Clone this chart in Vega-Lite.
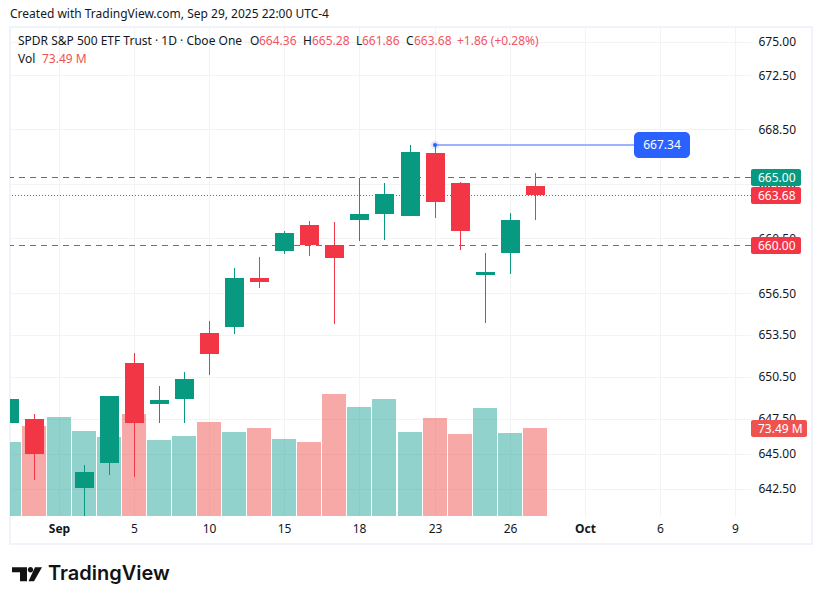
{
  "$schema": "https://vega.github.io/schema/vega-lite/v6.json",
  "description": "SPY daily candles with volume, TradingView snapshot",
  "width": 741,
  "height": 489,
  "autosize": {"type": "none"},
  "padding": {"left": 10, "top": 27, "right": 71, "bottom": 88},
  "background": "#ffffff",
  "datasets": {
    "candles": [
      {"date": "Aug 28", "bar": 0, "open": 647.17, "high": 649.0, "low": 647.0, "close": 648.89, "volume": 61.8, "dir": "up"},
      {"date": "Aug 29", "bar": 1, "open": 647.46, "high": 647.82, "low": 643.12, "close": 644.96, "volume": 75.2, "dir": "down"},
      {"date": "Sep 2", "bar": 2, "open": 637.5, "high": 640.49, "low": 634.92, "close": 640.27, "volume": 82.7, "dir": "up"},
      {"date": "Sep 3", "bar": 3, "open": 642.55, "high": 644.18, "low": 640.3, "close": 643.68, "volume": 71.0, "dir": "up"},
      {"date": "Sep 4", "bar": 4, "open": 644.32, "high": 649.1, "low": 643.47, "close": 649.1, "volume": 66.0, "dir": "up"},
      {"date": "Sep 5", "bar": 5, "open": 651.47, "high": 652.19, "low": 643.33, "close": 647.17, "volume": 85.2, "dir": "down"},
      {"date": "Sep 8", "bar": 6, "open": 648.53, "high": 649.82, "low": 647.17, "close": 648.82, "volume": 63.5, "dir": "up"},
      {"date": "Sep 9", "bar": 7, "open": 648.89, "high": 650.83, "low": 647.17, "close": 650.32, "volume": 66.8, "dir": "up"},
      {"date": "Sep 10", "bar": 8, "open": 653.64, "high": 654.5, "low": 650.61, "close": 652.12, "volume": 78.5, "dir": "down"},
      {"date": "Sep 11", "bar": 9, "open": 654.07, "high": 658.34, "low": 653.56, "close": 657.61, "volume": 70.2, "dir": "up"},
      {"date": "Sep 12", "bar": 10, "open": 657.61, "high": 659.14, "low": 656.89, "close": 657.32, "volume": 73.5, "dir": "down"},
      {"date": "Sep 15", "bar": 11, "open": 659.57, "high": 661.03, "low": 659.36, "close": 660.89, "volume": 64.3, "dir": "up"},
      {"date": "Sep 16", "bar": 12, "open": 661.47, "high": 661.76, "low": 659.21, "close": 660.01, "volume": 61.8, "dir": "down"},
      {"date": "Sep 17", "bar": 13, "open": 660.01, "high": 661.69, "low": 654.28, "close": 659.07, "volume": 101.9, "dir": "down"},
      {"date": "Sep 18", "bar": 14, "open": 661.84, "high": 664.91, "low": 660.31, "close": 662.27, "volume": 91.1, "dir": "up"},
      {"date": "Sep 19", "bar": 15, "open": 662.27, "high": 664.54, "low": 660.38, "close": 663.74, "volume": 97.7, "dir": "up"},
      {"date": "Sep 22", "bar": 16, "open": 662.13, "high": 667.33, "low": 662.13, "close": 666.82, "volume": 70.2, "dir": "up"},
      {"date": "Sep 23", "bar": 17, "open": 666.75, "high": 667.34, "low": 661.98, "close": 663.15, "volume": 81.9, "dir": "down"},
      {"date": "Sep 24", "bar": 18, "open": 664.54, "high": 664.62, "low": 659.65, "close": 661.03, "volume": 68.5, "dir": "down"},
      {"date": "Sep 25", "bar": 19, "open": 657.83, "high": 659.43, "low": 654.36, "close": 658.05, "volume": 90.2, "dir": "up"},
      {"date": "Sep 26", "bar": 20, "open": 659.43, "high": 662.35, "low": 657.9, "close": 661.86, "volume": 69.3, "dir": "up"},
      {"date": "Sep 29", "bar": 21, "open": 664.36, "high": 665.28, "low": 661.86, "close": 663.68, "volume": 73.49, "dir": "down"}
    ],
    "levels": [
      {"price": 665, "label": "665.00", "dir": "up"},
      {"price": 660, "label": "660.00", "dir": "down"}
    ],
    "lastPrice": [{"price": 663.68, "label": "663.68", "dir": "down"}],
    "lastVolume": [{"volume": 73.49, "label": "73.49 M"}],
    "high": [{"bar": 17, "price": 667.34, "label": "667.34"}]
  },
  "layer": [
    {
      "data": {"values": [{"part": "frame"}]},
      "mark": {"type": "rect", "fillOpacity": 0, "stroke": "#f0f3fa", "strokeWidth": 2},
      "encoding": {
        "x": {
          "datum": 0.043,
          "type": "quantitative",
          "scale": {"domain": [0.043, 29.64], "nice": false, "zero": false, "padding": 0, "round": true},
          "axis": {
            "values": [2, 5, 8, 11, 14, 17, 20, 23, 26, 29],
            "labelExpr": "datum.value == 2 ? 'Sep' : datum.value == 5 ? '5' : datum.value == 8 ? '10' : datum.value == 11 ? '15' : datum.value == 14 ? '18' : datum.value == 17 ? '23' : datum.value == 20 ? '26' : datum.value == 23 ? 'Oct' : datum.value == 26 ? '6' : '9'",
            "title": null,
            "grid": true,
            "gridColor": "#f2f3f5",
            "domain": false,
            "ticks": false,
            "labelPadding": 7,
            "labelFontSize": 12,
            "labelColor": "#131722",
            "labelFontWeight": {"condition": {"test": "datum.value == 2 || datum.value == 23", "value": "bold"}, "value": "normal"}
          }
        },
        "x2": {"datum": 32.07},
        "y": {
          "datum": 676.09,
          "type": "quantitative",
          "scale": {"type": "log", "domain": [640.57, 676.09], "nice": false},
          "axis": {
            "orient": "right",
            "values": [642.5, 645, 647.5, 650.5, 653.5, 656.5, 660.5, 664.5, 668.5, 672.5, 675],
            "format": ".2f",
            "title": null,
            "grid": true,
            "gridColor": "#f2f3f5",
            "domain": false,
            "ticks": false,
            "labelPadding": 7,
            "labelFontSize": 12,
            "labelColor": "#131722",
            "labelOverlap": false
          }
        },
        "y2": {"datum": 638.59}
      }
    },
    {
      "data": {"name": "levels"},
      "mark": {"type": "rule", "strokeDash": [6, 5], "strokeWidth": 1, "yOffset": 0.5},
      "encoding": {
        "y": {"field": "price", "type": "quantitative", "scale": {"type": "log", "domain": [640.57, 676.09], "nice": false, "round": true}, "axis": null},
        "color": {"field": "dir", "type": "nominal", "scale": {"domain": ["up", "down"], "range": ["#089981", "#f23645"]}, "legend": null}
      }
    },
    {
      "data": {"name": "lastPrice"},
      "mark": {"type": "rule", "strokeDash": [1, 2], "strokeWidth": 1, "color": "#f23645", "yOffset": 0.5},
      "encoding": {
        "y": {"field": "price", "type": "quantitative", "scale": {"type": "log", "domain": [640.57, 676.09], "nice": false, "round": true}, "axis": null}
      }
    },
    {
      "data": {"name": "candles"},
      "mark": {"type": "bar", "size": 24, "opacity": 0.5, "clip": true},
      "encoding": {
        "x": {"field": "bar", "type": "quantitative", "scale": {"domain": [0.043, 29.64], "nice": false, "zero": false, "padding": 0, "round": true}},
        "y": {"field": "volume", "type": "quantitative", "scale": {"domain": [0, 408.5], "nice": false, "round": true}, "axis": null},
        "color": {"condition": {"test": "datum.dir == 'up'", "value": "#26a69a"}, "value": "#ef5350"}
      }
    },
    {
      "data": {"name": "candles"},
      "mark": {"type": "rule", "strokeWidth": 1, "clip": true, "xOffset": 0.5},
      "encoding": {
        "x": {"field": "bar", "type": "quantitative", "scale": {"domain": [0.043, 29.64], "nice": false, "zero": false, "padding": 0, "round": true}},
        "y": {"field": "low", "type": "quantitative", "scale": {"type": "log", "domain": [640.57, 676.09], "nice": false, "round": true}, "axis": null},
        "y2": {"field": "high"},
        "color": {"field": "dir", "type": "nominal", "scale": {"domain": ["up", "down"], "range": ["#089981", "#f23645"]}, "legend": null}
      }
    },
    {
      "data": {"name": "candles"},
      "mark": {"type": "bar", "size": 19, "orient": "vertical", "clip": true, "xOffset": 0.5},
      "encoding": {
        "x": {"field": "bar", "type": "quantitative", "scale": {"domain": [0.043, 29.64], "nice": false, "zero": false, "padding": 0, "round": true}},
        "y": {"field": "open", "type": "quantitative", "scale": {"type": "log", "domain": [640.57, 676.09], "nice": false, "round": true}, "axis": null},
        "y2": {"field": "close"},
        "color": {"field": "dir", "type": "nominal", "scale": {"domain": ["up", "down"], "range": ["#089981", "#f23645"]}, "legend": null}
      }
    },
    {
      "data": {"name": "high"},
      "mark": {"type": "rule", "strokeWidth": 2, "color": "#9cb4ff"},
      "encoding": {
        "x": {"field": "bar", "type": "quantitative", "scale": {"domain": [0.043, 29.64], "nice": false, "zero": false, "padding": 0, "round": true}},
        "x2": {"datum": 26},
        "y": {"field": "price", "type": "quantitative", "scale": {"type": "log", "domain": [640.57, 676.09], "nice": false, "round": true}, "axis": null}
      }
    },
    {
      "data": {"name": "high"},
      "mark": {"type": "point", "filled": true, "size": 70, "opacity": 0.15, "color": "#2962ff"},
      "encoding": {
        "x": {"field": "bar", "type": "quantitative", "scale": {"domain": [0.043, 29.64], "nice": false, "zero": false, "padding": 0, "round": true}},
        "y": {"field": "price", "type": "quantitative", "scale": {"type": "log", "domain": [640.57, 676.09], "nice": false, "round": true}, "axis": null}
      }
    },
    {
      "data": {"name": "high"},
      "mark": {"type": "point", "filled": true, "size": 16, "opacity": 1, "color": "#2962ff"},
      "encoding": {
        "x": {"field": "bar", "type": "quantitative", "scale": {"domain": [0.043, 29.64], "nice": false, "zero": false, "padding": 0, "round": true}},
        "y": {"field": "price", "type": "quantitative", "scale": {"type": "log", "domain": [640.57, 676.09], "nice": false, "round": true}, "axis": null}
      }
    },
    {
      "data": {"name": "high"},
      "mark": {"type": "rect", "width": 56, "height": 26, "cornerRadius": 5, "color": "#2962ff"},
      "encoding": {
        "x": {"datum": 26.08, "type": "quantitative", "scale": {"domain": [0.043, 29.64], "nice": false, "zero": false, "padding": 0, "round": true}},
        "y": {"field": "price", "type": "quantitative", "scale": {"type": "log", "domain": [640.57, 676.09], "nice": false, "round": true}, "axis": null}
      }
    },
    {
      "data": {"name": "high"},
      "mark": {"type": "text", "fontSize": 12, "color": "#ffffff"},
      "encoding": {
        "x": {"datum": 26.08, "type": "quantitative", "scale": {"domain": [0.043, 29.64], "nice": false, "zero": false, "padding": 0, "round": true}},
        "y": {"field": "price", "type": "quantitative", "scale": {"type": "log", "domain": [640.57, 676.09], "nice": false, "round": true}, "axis": null},
        "text": {"field": "label"}
      }
    },
    {
      "data": {"name": "levels"},
      "mark": {"type": "rect", "width": 50, "height": 17, "cornerRadius": 2, "yOffset": 0.5},
      "encoding": {
        "x": {"datum": 30.64, "type": "quantitative", "scale": {"domain": [0.043, 29.64], "nice": false, "zero": false, "padding": 0, "round": true}},
        "y": {"field": "price", "type": "quantitative", "scale": {"type": "log", "domain": [640.57, 676.09], "nice": false, "round": true}, "axis": null},
        "color": {"field": "dir", "type": "nominal", "scale": {"domain": ["up", "down"], "range": ["#089981", "#f23645"]}, "legend": null}
      }
    },
    {
      "data": {"name": "lastPrice"},
      "mark": {"type": "rect", "width": 50, "height": 17, "cornerRadius": 2, "color": "#f23645", "yOffset": 0.5},
      "encoding": {
        "x": {"datum": 30.64, "type": "quantitative", "scale": {"domain": [0.043, 29.64], "nice": false, "zero": false, "padding": 0, "round": true}},
        "y": {"field": "price", "type": "quantitative", "scale": {"type": "log", "domain": [640.57, 676.09], "nice": false, "round": true}, "axis": null}
      }
    },
    {
      "data": {"name": "levels"},
      "mark": {"type": "text", "align": "left", "fontSize": 12, "color": "#ffffff", "yOffset": 0.5},
      "encoding": {
        "x": {"datum": 29.91, "type": "quantitative", "scale": {"domain": [0.043, 29.64], "nice": false, "zero": false, "padding": 0, "round": true}},
        "y": {"field": "price", "type": "quantitative", "scale": {"type": "log", "domain": [640.57, 676.09], "nice": false, "round": true}, "axis": null},
        "text": {"field": "label"}
      }
    },
    {
      "data": {"name": "lastPrice"},
      "mark": {"type": "text", "align": "left", "fontSize": 12, "color": "#ffffff", "yOffset": 0.5},
      "encoding": {
        "x": {"datum": 29.91, "type": "quantitative", "scale": {"domain": [0.043, 29.64], "nice": false, "zero": false, "padding": 0, "round": true}},
        "y": {"field": "price", "type": "quantitative", "scale": {"type": "log", "domain": [640.57, 676.09], "nice": false, "round": true}, "axis": null},
        "text": {"field": "label"}
      }
    },
    {
      "data": {"name": "lastVolume"},
      "mark": {"type": "rect", "width": 56, "height": 17, "cornerRadius": 2, "color": "#ef5350", "yOffset": 0.5},
      "encoding": {
        "x": {"datum": 30.75, "type": "quantitative", "scale": {"domain": [0.043, 29.64], "nice": false, "zero": false, "padding": 0, "round": true}},
        "y": {"field": "volume", "type": "quantitative", "scale": {"domain": [0, 408.5], "nice": false, "round": true}, "axis": null}
      }
    },
    {
      "data": {"name": "lastVolume"},
      "mark": {"type": "text", "align": "left", "fontSize": 12, "color": "#ffffff", "yOffset": 0.5},
      "encoding": {
        "x": {"datum": 29.91, "type": "quantitative", "scale": {"domain": [0.043, 29.64], "nice": false, "zero": false, "padding": 0, "round": true}},
        "y": {"field": "volume", "type": "quantitative", "scale": {"domain": [0, 408.5], "nice": false, "round": true}, "axis": null},
        "text": {"field": "label"}
      }
    },
    {
      "data": {"values": [{"t": "Created with TradingView.com, Sep 29, 2025 22:00 UTC-4"}]},
      "mark": {"type": "text", "align": "left", "fontSize": 12, "color": "#131722"},
      "encoding": {
        "x": {"datum": 0.043, "type": "quantitative", "scale": {"domain": [0.043, 29.64], "nice": false, "zero": false, "padding": 0, "round": true}},
        "y": {"datum": 677.06, "type": "quantitative", "scale": {"type": "log", "domain": [640.57, 676.09], "nice": false}, "axis": null},
        "text": {"field": "t"}
      }
    },
    {
      "data": {"values": [{"t": "SPDR S&P 500 ETF Trust · 1D · Cboe One"}]},
      "mark": {"type": "text", "align": "left", "fontSize": 12, "color": "#131722"},
      "encoding": {
        "x": {"datum": 0.3626, "type": "quantitative", "scale": {"domain": [0.043, 29.64], "nice": false, "zero": false, "padding": 0, "round": true}},
        "y": {"datum": 675.04, "type": "quantitative", "scale": {"type": "log", "domain": [640.57, 676.09], "nice": false}, "axis": null},
        "text": {"field": "t"}
      }
    },
    {
      "data": {"values": [{"t": "O"}]},
      "mark": {"type": "text", "align": "left", "fontSize": 12, "color": "#131722"},
      "encoding": {
        "x": {"datum": 9.628, "type": "quantitative", "scale": {"domain": [0.043, 29.64], "nice": false, "zero": false, "padding": 0, "round": true}},
        "y": {"datum": 675.04, "type": "quantitative", "scale": {"type": "log", "domain": [640.57, 676.09], "nice": false}, "axis": null},
        "text": {"field": "t"}
      }
    },
    {
      "data": {"values": [{"t": "664.36"}]},
      "mark": {"type": "text", "align": "left", "fontSize": 12, "color": "#f7525f"},
      "encoding": {
        "x": {"datum": 9.975, "type": "quantitative", "scale": {"domain": [0.043, 29.64], "nice": false, "zero": false, "padding": 0, "round": true}},
        "y": {"datum": 675.04, "type": "quantitative", "scale": {"type": "log", "domain": [640.57, 676.09], "nice": false}, "axis": null},
        "text": {"field": "t"}
      }
    },
    {
      "data": {"values": [{"t": "H"}]},
      "mark": {"type": "text", "align": "left", "fontSize": 12, "color": "#131722"},
      "encoding": {
        "x": {"datum": 11.733, "type": "quantitative", "scale": {"domain": [0.043, 29.64], "nice": false, "zero": false, "padding": 0, "round": true}},
        "y": {"datum": 675.04, "type": "quantitative", "scale": {"type": "log", "domain": [640.57, 676.09], "nice": false}, "axis": null},
        "text": {"field": "t"}
      }
    },
    {
      "data": {"values": [{"t": "665.28"}]},
      "mark": {"type": "text", "align": "left", "fontSize": 12, "color": "#f7525f"},
      "encoding": {
        "x": {"datum": 12.092, "type": "quantitative", "scale": {"domain": [0.043, 29.64], "nice": false, "zero": false, "padding": 0, "round": true}},
        "y": {"datum": 675.04, "type": "quantitative", "scale": {"type": "log", "domain": [640.57, 676.09], "nice": false}, "axis": null},
        "text": {"field": "t"}
      }
    },
    {
      "data": {"values": [{"t": "L"}]},
      "mark": {"type": "text", "align": "left", "fontSize": 12, "color": "#131722"},
      "encoding": {
        "x": {"datum": 13.849, "type": "quantitative", "scale": {"domain": [0.043, 29.64], "nice": false, "zero": false, "padding": 0, "round": true}},
        "y": {"datum": 675.04, "type": "quantitative", "scale": {"type": "log", "domain": [640.57, 676.09], "nice": false}, "axis": null},
        "text": {"field": "t"}
      }
    },
    {
      "data": {"values": [{"t": "661.86"}]},
      "mark": {"type": "text", "align": "left", "fontSize": 12, "color": "#f7525f"},
      "encoding": {
        "x": {"datum": 14.09, "type": "quantitative", "scale": {"domain": [0.043, 29.64], "nice": false, "zero": false, "padding": 0, "round": true}},
        "y": {"datum": 675.04, "type": "quantitative", "scale": {"type": "log", "domain": [640.57, 676.09], "nice": false}, "axis": null},
        "text": {"field": "t"}
      }
    },
    {
      "data": {"values": [{"t": "C"}]},
      "mark": {"type": "text", "align": "left", "fontSize": 12, "color": "#131722"},
      "encoding": {
        "x": {"datum": 15.856, "type": "quantitative", "scale": {"domain": [0.043, 29.64], "nice": false, "zero": false, "padding": 0, "round": true}},
        "y": {"datum": 675.04, "type": "quantitative", "scale": {"type": "log", "domain": [640.57, 676.09], "nice": false}, "axis": null},
        "text": {"field": "t"}
      }
    },
    {
      "data": {"values": [{"t": "663.68"}]},
      "mark": {"type": "text", "align": "left", "fontSize": 12, "color": "#f7525f"},
      "encoding": {
        "x": {"datum": 16.18, "type": "quantitative", "scale": {"domain": [0.043, 29.64], "nice": false, "zero": false, "padding": 0, "round": true}},
        "y": {"datum": 675.04, "type": "quantitative", "scale": {"type": "log", "domain": [640.57, 676.09], "nice": false}, "axis": null},
        "text": {"field": "t"}
      }
    },
    {
      "data": {"values": [{"t": "+1.86 (+0.28%)"}]},
      "mark": {"type": "text", "align": "left", "fontSize": 12, "color": "#f7525f"},
      "encoding": {
        "x": {"datum": 17.89, "type": "quantitative", "scale": {"domain": [0.043, 29.64], "nice": false, "zero": false, "padding": 0, "round": true}},
        "y": {"datum": 675.04, "type": "quantitative", "scale": {"type": "log", "domain": [640.57, 676.09], "nice": false}, "axis": null},
        "text": {"field": "t"}
      }
    },
    {
      "data": {"values": [{"t": "Vol"}]},
      "mark": {"type": "text", "align": "left", "fontSize": 12, "color": "#131722"},
      "encoding": {
        "x": {"datum": 0.3626, "type": "quantitative", "scale": {"domain": [0.043, 29.64], "nice": false, "zero": false, "padding": 0, "round": true}},
        "y": {"datum": 673.72, "type": "quantitative", "scale": {"type": "log", "domain": [640.57, 676.09], "nice": false}, "axis": null},
        "text": {"field": "t"}
      }
    },
    {
      "data": {"values": [{"t": "73.49 M"}]},
      "mark": {"type": "text", "align": "left", "fontSize": 12, "color": "#ef5350"},
      "encoding": {
        "x": {"datum": 1.321, "type": "quantitative", "scale": {"domain": [0.043, 29.64], "nice": false, "zero": false, "padding": 0, "round": true}},
        "y": {"datum": 673.72, "type": "quantitative", "scale": {"type": "log", "domain": [640.57, 676.09], "nice": false}, "axis": null},
        "text": {"field": "t"}
      }
    },
    {
      "data": {"values": [{"t": "logo"}]},
      "mark": {
        "type": "point",
        "filled": true,
        "opacity": 1,
        "size": 900,
        "color": "#131313",
        "shape": "M-1 -.467H0V.467H-.467V-.133H-1ZM.053 -.3A.18 .18 0 1 0 .413 -.3A.18 .18 0 1 0 .053 -.3ZM.533 -.467H1L.467 .467H.1Z"
      },
      "encoding": {
        "x": {"datum": 0.7217, "type": "quantitative", "scale": {"domain": [0.043, 29.64], "nice": false, "zero": false, "padding": 0, "round": true}},
        "y": {"datum": 636.47, "type": "quantitative", "scale": {"type": "log", "domain": [640.57, 676.09], "nice": false}, "axis": null}
      }
    },
    {
      "data": {"values": [{"t": "TradingView"}]},
      "mark": {"type": "text", "align": "left", "fontSize": 20, "fontWeight": 600, "font": "Inter", "color": "#131313"},
      "encoding": {
        "x": {"datum": 1.563, "type": "quantitative", "scale": {"domain": [0.043, 29.64], "nice": false, "zero": false, "padding": 0, "round": true}},
        "y": {"datum": 636.47, "type": "quantitative", "scale": {"type": "log", "domain": [640.57, 676.09], "nice": false}, "axis": null},
        "text": {"field": "t"}
      }
    }
  ],
  "resolve": {"scale": {"y": "independent"}, "axis": {"y": "independent"}},
  "config": {
    "font": "Noto Sans",
    "view": {"stroke": null},
    "text": {"baseline": "middle"}
  }
}
